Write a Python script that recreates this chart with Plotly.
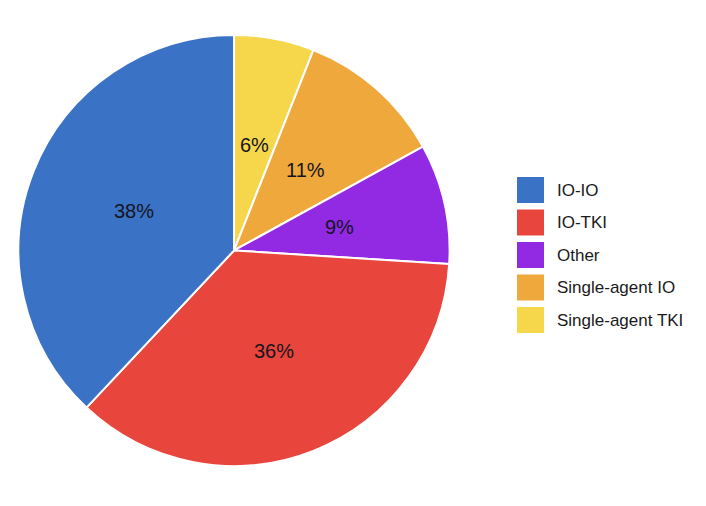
import math
import plotly.graph_objects as go

labels = ["IO-IO", "IO-TKI", "Other", "Single-agent IO", "Single-agent TKI"]
values = [38, 36, 9, 11, 6]
colors = ["#3A72C6", "#E8453C", "#9229E3", "#EFA83C", "#F6D64A"]

W, H = 706, 506
dom_x = [0.0255, 0.6375]
dom_y = [0.079, 0.931]

fig = go.Figure()
# slices run counterclockwise from 12 o'clock in the reference; drawn clockwise in reverse order
fig.add_trace(go.Pie(
    labels=labels[::-1], values=values[::-1], sort=False, direction="clockwise",
    rotation=0,
    marker=dict(colors=colors[::-1], line=dict(color="white", width=2)),
    textinfo="none",
    domain=dict(x=dom_x, y=dom_y),
    showlegend=False, hoverinfo="label+percent",
))

# percentage labels placed at half radius (Google-Charts style)
cx = (dom_x[0] + dom_x[1]) / 2 * W
cy = (1 - (dom_y[0] + dom_y[1]) / 2) * H
R = (dom_y[1] - dom_y[0]) * H / 2
r = 0.5 * R
total = sum(values)
cum = 0
for v in values:
    theta = math.radians(360 * (cum + v / 2) / total)
    cum += v
    px = cx - r * math.sin(theta)
    py = cy - r * math.cos(theta)
    fig.add_annotation(x=px / W, y=1 - py / H, xref="paper", yref="paper",
                       text=f"{round(100 * v / total)}%", showarrow=False,
                       xanchor="center", yanchor="middle",
                       font=dict(family="Liberation Sans, Arial, sans-serif", size=20, color="#15151f"))

# custom legend built from the labels/colors lists
y0 = 190
gap = 32.5
for i, (lab, col) in enumerate(zip(labels, colors)):
    yc = y0 + i * gap
    fig.add_shape(type="rect", xref="paper", yref="paper",
                  x0=517 / W, x1=544 / W,
                  y0=1 - (yc - 13) / H, y1=1 - (yc + 13) / H,
                  fillcolor=col, line=dict(width=0))
    fig.add_annotation(x=555 / W, y=1 - yc / H, xref="paper", yref="paper",
                       text=lab, showarrow=False, xanchor="left", yanchor="middle",
                       font=dict(family="Liberation Sans, Arial, sans-serif", size=17, color="#1a1a1a"))

fig.update_layout(
    width=W, height=H,
    margin=dict(l=0, r=0, t=0, b=0),
    paper_bgcolor="white", plot_bgcolor="white",
)
fig.write_html("out.html")
